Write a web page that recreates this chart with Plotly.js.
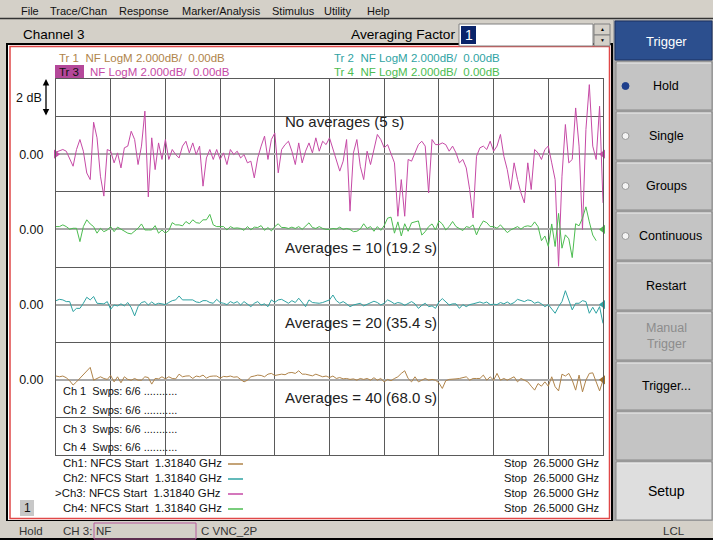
<!DOCTYPE html>
<html><head><meta charset="utf-8">
<script src="https://cdn.plot.ly/plotly-3.0.1.min.js"></script>
<style>html,body{margin:0;padding:0;background:#d4d0c8;overflow:hidden}#chart{width:713px;height:540px}</style>
</head><body><div id="chart"></div>
<script>
// ---- stimulus ----
const START_GHZ = 1.3184;
const STOP_GHZ = 26.5;
const NPTS = 161;
// ---- noise figure traces (dB) ----
const tr3_nf_db = [0.11,0.16,0.25,0.16,-0.28,-0.64,0.25,0.78,0.16,-1.0,
 -1.35,1.7,0.87,-1.17,-2.23,0.25,0.16,-0.46,0.07,-0.73,
 0.34,0.43,1.22,0.78,-0.55,0.43,2.29,-2.27,0.87,-0.82,
 0.6,-0.28,0.78,-0.28,0.25,-0.02,-0.2,0.43,0.69,0.07,
 0.6,-0.02,0.43,-1.7,-0.2,0.25,-0.28,0.25,-0.28,0.07,
 -0.55,0.25,-0.02,0.16,
 -0.2,-0.02,-0.46,-0.37,-1.26,-0.2,0.43,0.96,-0.28,0.78,
 1.13,-0.99,0.25,0.51,0.69,0.16,-0.55,0.6,-0.46,0.16,
 0.6,0.07,0.87,0.16,0.69,0.51,0.87,0.25,-0.28,-0.9,
 -0.37,0.78,-3.03,0.07,0.78,-0.64,-1.35,0.16,-0.55,0.25,
 1.05,0.78,0.34,0.51,-0.02,-0.46,-3.3,-1.35,-3.3,-0.28,
 -0.37,0.07,0.51,0.69,
 0.43,-2.06,0.78,0.51,0.51,0.6,0.51,0.16,0.43,0.07,
 -0.46,-0.28,-0.73,-1.88,-3.39,-0.11,0.34,0.43,0.25,0.69,
 0.16,0.43,1.05,-0.11,-0.82,-1.88,-0.46,-1.35,-2.06,-2.59,
 -0.46,-1.88,0.25,0.07,-0.28,0.25,0.43,-0.46,-1.35,-5.96,
 -1.17,1.58,-0.46,-0.28,2.46,0.43,-4.0,1.31,3.7,0.43,
 -0.28,2.55,-2.59];
const tr4_nf_db = [0.15,0.15,0.24,0.15,0.01,0.06,0.06,-0.65,0.15,0.51,
 0.29,0.15,-0.2,0.06,-0.12,-0.03,0.15,-0.12,0.12,0.01,
 -0.12,-0.2,-0.24,-0.08,0.06,0.29,-0.03,-0.03,-0.03,0.2,
 -0.2,-0.03,-0.2,-0.06,0.36,0.24,0.24,0.19,0.42,0.29,
 0.51,0.36,0.33,0.51,0.51,0.8,0.24,0.15,0.15,0.15,
 -0.03,0.15,0.06,0.08,
 0.05,-0.05,0.15,-0.02,0.12,0.1,0.2,-0.05,0.1,-0.08,
 0.15,0.3,0.1,0.1,0.05,0.12,0.05,0.15,0.0,0.15,
 0.35,0.1,0.05,0.15,0.05,0.0,0.0,0.05,0.02,0.12,
 0.0,0.05,0.0,-0.12,-0.1,0.02,0.3,0.05,0.15,-0.1,
 0.15,-0.05,0.2,0.6,0.65,-0.2,0.4,-0.35,0.3,-0.1,
 0.35,0.4,0.45,-0.3,
 -0.12,0.15,0.29,-0.03,0.45,0.29,-0.03,0.15,0.42,0.15,
 0.06,-0.06,0.15,0.1,0.24,-0.29,0.15,0.45,0.36,0.15,
 0.15,0.06,0.24,0.06,-0.17,-0.03,0.06,0.15,0.01,0.15,
 0.19,0.15,0.4,0.15,-0.6,-0.35,-0.9,0.29,-0.91,0.85,
 -1.0,-0.29,-0.5,-1.5,0.3,0.19,0.6,1.2,0.4,-0.3,
 -0.6];
const tr2_nf_db = [0.21,0.28,0.25,0.16,0.16,-0.37,-0.2,-0.2,0.07,0.39,
 0.25,0.43,0.07,0.04,0.04,0.16,-0.25,-0.02,-0.07,0.04,
 -0.07,0.11,-0.16,-0.6,-0.11,0.11,0.16,-0.02,0.14,0.0,
 0.07,0.04,0.0,0.11,0.21,0.25,0.46,0.25,0.25,0.21,
 0.25,0.14,0.11,0.21,0.21,0.11,0.07,0.28,0.11,0.07,
 0.0,0.16,0.07,0.16,
 -0.02,0.16,0.04,-0.11,0.07,0.16,-0.02,0.04,-0.11,0.25,
 0.12,0.25,0.28,0.16,0.07,0.21,0.11,0.34,0.11,-0.11,
 0.25,0.11,0.09,0.07,0.11,0.16,0.25,0.51,0.21,0.07,
 0.16,0.04,-0.11,-0.02,0.04,0.07,-0.07,0.0,0.07,0.18,
 0.11,-0.02,0.07,0.25,0.16,0.04,0.11,0.07,-0.04,0.07,
 0.16,0.04,-0.2,-0.04,
 0.07,-0.11,-0.07,-0.2,0.14,0.32,0.14,-0.02,0.04,0.04,
 -0.2,0.0,-0.11,0.0,0.04,0.07,0.14,0.07,0.14,0.0,
 0.02,0.0,0.11,0.04,0.14,0.02,0.11,0.28,0.21,0.16,
 0.25,0.21,0.07,0.14,0.04,-0.11,0.0,-0.25,-0.46,-0.11,
 0.16,0.74,0.25,-0.28,0.07,0.07,0.21,0.16,-0.46,-0.14,
 -0.46,-0.11,-1.0];
const tr1_nf_db = [0.2,0.16,0.2,0.11,-0.05,-0.28,-0.11,0.07,0.3,0.43,
 0.66,-0.02,0.07,0.16,0.07,0.02,0.23,-0.11,0.16,-0.16,
 0.16,0.02,-0.02,0.07,-0.02,-0.02,0.16,0.12,-0.23,0.07,
 0.05,0.16,0.05,0.16,0.07,0.05,0.3,0.16,0.2,0.21,
 0.07,0.2,0.16,0.25,0.09,0.18,0.2,0.2,0.09,0.18,
 0.16,0.2,0.14,0.16,
 0.02,-0.11,-0.02,0.16,0.2,0.25,0.23,0.16,0.3,0.34,
 0.23,0.25,0.3,0.27,0.37,0.39,0.34,0.48,0.3,0.3,
 0.27,0.21,0.3,0.25,0.16,0.2,0.12,0.2,0.07,0.12,
 0.05,0.07,0.02,0.05,-0.02,0.07,0.02,0.07,-0.02,0.11,
 -0.02,0.07,-0.11,0.02,-0.05,0.07,0.16,0.34,0.48,0.07,
 -0.11,0.16,-0.11,-0.02,
 0.07,-0.02,0.02,-0.02,-0.16,-0.46,-0.05,0.02,0.02,0.05,
 0.07,0.12,0.16,-0.02,0.07,0.07,0.07,0.25,-0.02,0.16,
 -0.02,0.34,-0.02,0.07,-0.02,0.07,0.16,-0.11,0.07,-0.02,
 -0.11,-0.34,-0.55,-0.2,-0.34,-0.11,-0.34,0.16,-0.37,-0.59,
 0.3,0.2,0.34,-0.02,-0.55,0.25,-0.64,-0.02,0.34,0.37,
 -0.11,-0.59,-0.02];
// ---- labels ----
const traceLabels = ['Tr 1  NF LogM 2.000dB/  0.00dB','Tr 2  NF LogM 2.000dB/  0.00dB','NF LogM 2.000dB/  0.00dB','Tr 4  NF LogM 2.000dB/  0.00dB'];
const noteLabels = ['No averages (5 s)','Averages = 10 (19.2 s)','Averages = 20 (35.4 s)','Averages = 40 (68.0 s)'];
const chanLabels = ['Ch1: NFCS Start  1.31840 GHz','Ch2: NFCS Start  1.31840 GHz','>Ch3: NFCS Start  1.31840 GHz','Ch4: NFCS Start  1.31840 GHz'];
const stopLabel = 'Stop  26.5000 GHz';
const swpLabels = ['Ch 1  Swps: 6/6 ...........','Ch 2  Swps: 6/6 ...........','Ch 3  Swps: 6/6 ...........','Ch 4  Swps: 6/6 ...........'];
const menuItems = ['File','Trace/Chan','Response','Marker/Analysis','Stimulus','Utility','Help'];
const buttonLabels = ['Hold','Single','Groups','Continuous','Restart','Manual<br>Trigger','Trigger...','','Setup'];

const C1='#b0844a', C2='#2fa3a3', C3='#c64aa6', C4='#4cbc50';
const freq = [];
for (let i=0;i<NPTS;i++) freq.push(START_GHZ + (STOP_GHZ-START_GHZ)*i/(NPTS-1));

const W=713,H=540;
const X=x=>x/W, Y=y=>1-y/H;
const FONT='Liberation Sans, Arial, sans-serif';
const shapes=[], ann=[];
function rect(x0,y0,x1,y1,fill,line,lw){shapes.push({type:'rect',xref:'paper',yref:'paper',x0:X(x0),x1:X(x1),y0:Y(y1),y1:Y(y0),fillcolor:fill,line:{color:line||'rgba(0,0,0,0)',width:lw||0},layer:'below'});}
function hline(x0,x1,y,c,w){shapes.push({type:'line',xref:'paper',yref:'paper',x0:X(x0),x1:X(x1),y0:Y(y),y1:Y(y),line:{color:c,width:w||1},layer:'below'});}
function txt(t,x,y,o){o=o||{};ann.push({text:t.replace(/  /g,'\u00a0 '),x:X(x),y:Y(y),xref:'paper',yref:'paper',showarrow:false,xanchor:o.xa||'left',yanchor:'middle',font:{family:o.family||FONT,size:o.size||12,color:o.color||'#000'},borderpad:0,align:o.align||'left'});}

// window background pieces
hline(0,713,18.5,'#333',1.5);
// display area
rect(7,44,612,521,'#ffffff','#000',2);
rect(10,46.5,609.5,518.5,'rgba(0,0,0,0)','#e04848',1.5);
// status bar
rect(0,521,713,540,'#d4d0c8');
hline(0,713,539,'#000',2);
// menu
const menuX=[20,49,118,181,271,323,366];
menuItems.forEach((m,i)=>txt(m,menuX[i],11,{size:11,color:'#111'}));
txt('Channel 3',22,34,{size:13.5});
txt('Averaging Factor',350,35,{size:13.7});
rect(459,24,593,46,'#ffffff','#808080',1);
rect(461,26,476,44,'#0a246a');
txt('1',464,35,{size:14,color:'#fff'});
rect(594,24,610,35,'#d4d0c8','#808080',1);
rect(594,35,610,46,'#d4d0c8','#808080',1);
txt('▲',602,29.5,{xa:'center',size:5});
txt('▼',602,40.5,{xa:'center',size:5});
// right button panel
rect(613,19,713,521,'#a8a8a8');
rect(615,21,712,60,'#2c4f8e','#1a3060',1);
txt('Trigger',666,41,{xa:'center',size:13,color:'#fff'});
const btnY=[[62,110],[112,160],[162,210],[212,260],[262,310],[312,360],[362,410],[412,460],[462,520]];
btnY.forEach((b,i)=>{
  const f = i===8?'#dedede':'#c4c4c4';
  rect(616,b[0],712,b[1],f,'#8a8a8a',1);
  hline(617,711,b[0]+1,'#eeeeee',1);
  const lab=buttonLabels[i];
  if(lab){
    const col = i===5?'#8c8c8c':'#000';
    txt(lab,i===3?670:666,(b[0]+b[1])/2,{xa:'center',size:i===8?14:12.5,color:col,align:'center'});
  }
});
[0,1,2,3].forEach(i=>{
  const cy=(btnY[i][0]+btnY[i][1])/2;
  shapes.push({type:'circle',xref:'paper',yref:'paper',x0:X(622),x1:X(629),y0:Y(cy+3.5),y1:Y(cy-3.5),fillcolor:i===0?'#1e3f8c':'#f4f4f4',line:{color:i===0?'#1e3f8c':'#999',width:1},layer:'above'});
});
// status bar text
txt('Hold',18,531,{size:11.5,color:'#333'});
txt('CH 3:',62,531,{size:11.5,color:'#333'});
rect(94,523,196,539,'rgba(0,0,0,0)','#b85a9e',1);
txt('NF',95,531,{size:11.5,color:'#333'});
txt('C VNC_2P',200,531,{size:11.5,color:'#333'});
txt('LCL',662,531,{size:11.5,color:'#333'});
// trace headers
txt(traceLabels[0],58,57.5,{color:C1,size:11.5});
txt(traceLabels[1],333,57.5,{color:C2,size:11.5});
rect(55,65,84,79,'#b4489a');
txt('Tr 3',58,72,{color:'#111',size:11.5});
txt(traceLabels[2],89,72,{color:C3,size:11.5});
txt(traceLabels[3],333,72,{color:C4,size:11.5});
txt('2 dB',43,98,{xa:'right',size:12.5,color:'#111'});
ann.push({text:'',xref:'paper',yref:'paper',x:X(46),y:Y(79),ax:0,ay:38,showarrow:true,arrowside:'end+start',arrowhead:2,arrowsize:1,arrowwidth:1.3,arrowcolor:'#000'});
// notes in the grid
const noteY=[121,247,322,397];
noteLabels.forEach((t,i)=>txt(t,284,noteY[i],{size:15,color:'#222'}));
const swpY=[391,410,429,447];
swpLabels.forEach((t,i)=>txt(t,62,swpY[i],{size:11,color:'#111'}));
const chY=[463,478,493,508];
const chCol=[C1,C2,C3,C4];
chanLabels.forEach((t,i)=>{
  txt(t,i===2?54:62,chY[i],{size:11.4,color:'#111'});
  hline(228,243,chY[i]+1,chCol[i],1.5);
  txt(stopLabel,503,chY[i],{size:11.2,color:'#111'});
});
rect(20,500,34,516,'#c8c8c8');
txt('1',27,508,{xa:'center',size:12,color:'#111'});

const dom=[Y(455),Y(79)];
const gridC='#5a5a5a';
function yax(range,o){return Object.assign({range:range,domain:dom,fixedrange:true,showgrid:false,zeroline:true,zerolinecolor:'#a9a9a9',zerolinewidth:2,tickvals:[0],ticktext:['0.00'],ticks:'outside',ticklen:9,tickcolor:'rgba(0,0,0,0)',tickfont:{family:FONT,size:12.5,color:'#111'},showline:false},o||{});}

const traces=[
 {x:freq,y:tr3_nf_db,yaxis:'y',mode:'lines',line:{color:C3,width:1},hoverinfo:'none'},
 {x:freq,y:tr4_nf_db,yaxis:'y2',mode:'lines',line:{color:C4,width:1},hoverinfo:'none'},
 {x:freq,y:tr2_nf_db,yaxis:'y3',mode:'lines',line:{color:C2,width:1},hoverinfo:'none'},
 {x:freq,y:tr1_nf_db,yaxis:'y4',mode:'lines',line:{color:C1,width:1},hoverinfo:'none'},
 {x:[STOP_GHZ],y:[0],yaxis:'y',mode:'markers',marker:{symbol:'triangle-left',size:8,color:C3},cliponaxis:false,hoverinfo:'none'},
 {x:[START_GHZ],y:[0],yaxis:'y',mode:'markers',marker:{symbol:'triangle-right',size:8,color:C3},cliponaxis:false,hoverinfo:'none'},
 {x:[STOP_GHZ],y:[0],yaxis:'y2',mode:'markers',marker:{symbol:'triangle-left',size:8,color:C4},cliponaxis:false,hoverinfo:'none'},
 {x:[STOP_GHZ],y:[0],yaxis:'y3',mode:'markers',marker:{symbol:'triangle-left',size:8,color:C2},cliponaxis:false,hoverinfo:'none'},
 {x:[STOP_GHZ],y:[0],yaxis:'y4',mode:'markers',marker:{symbol:'triangle-left',size:8,color:'#a0702a'},cliponaxis:false,hoverinfo:'none'}
];
const layout={
 width:W,height:H,margin:{l:0,r:0,t:0,b:0},
 paper_bgcolor:'#d4d0c8',plot_bgcolor:'rgba(0,0,0,0)',showlegend:false,
 xaxis:{domain:[X(56),X(603)],range:[START_GHZ,STOP_GHZ],tick0:START_GHZ,dtick:(STOP_GHZ-START_GHZ)/10,showgrid:true,gridcolor:gridC,gridwidth:1,zeroline:false,showticklabels:false,ticks:'',showline:true,mirror:true,linecolor:gridC,linewidth:1,fixedrange:true},
 yaxis:yax([-16,4],{showgrid:true,gridcolor:gridC,gridwidth:1,dtick:2,tickmode:'linear',tick0:0,showticklabels:false,showline:true,mirror:true,linecolor:gridC,linewidth:1}),
 yaxis2:yax([-12,8],{overlaying:'y',anchor:'x'}),
 yaxis3:yax([-8,12],{overlaying:'y',anchor:'x'}),
 yaxis4:yax([-4,16],{overlaying:'y',anchor:'x'}),
 yaxis5:yax([-16,4],{overlaying:'y',anchor:'x',zeroline:false}),
 shapes:shapes,annotations:ann
};
traces.push({x:[START_GHZ],y:[null],yaxis:'y5',mode:'lines',hoverinfo:'none'});
Plotly.newPlot('chart',traces,layout,{staticPlot:true,displayModeBar:false});
</script></body></html>
